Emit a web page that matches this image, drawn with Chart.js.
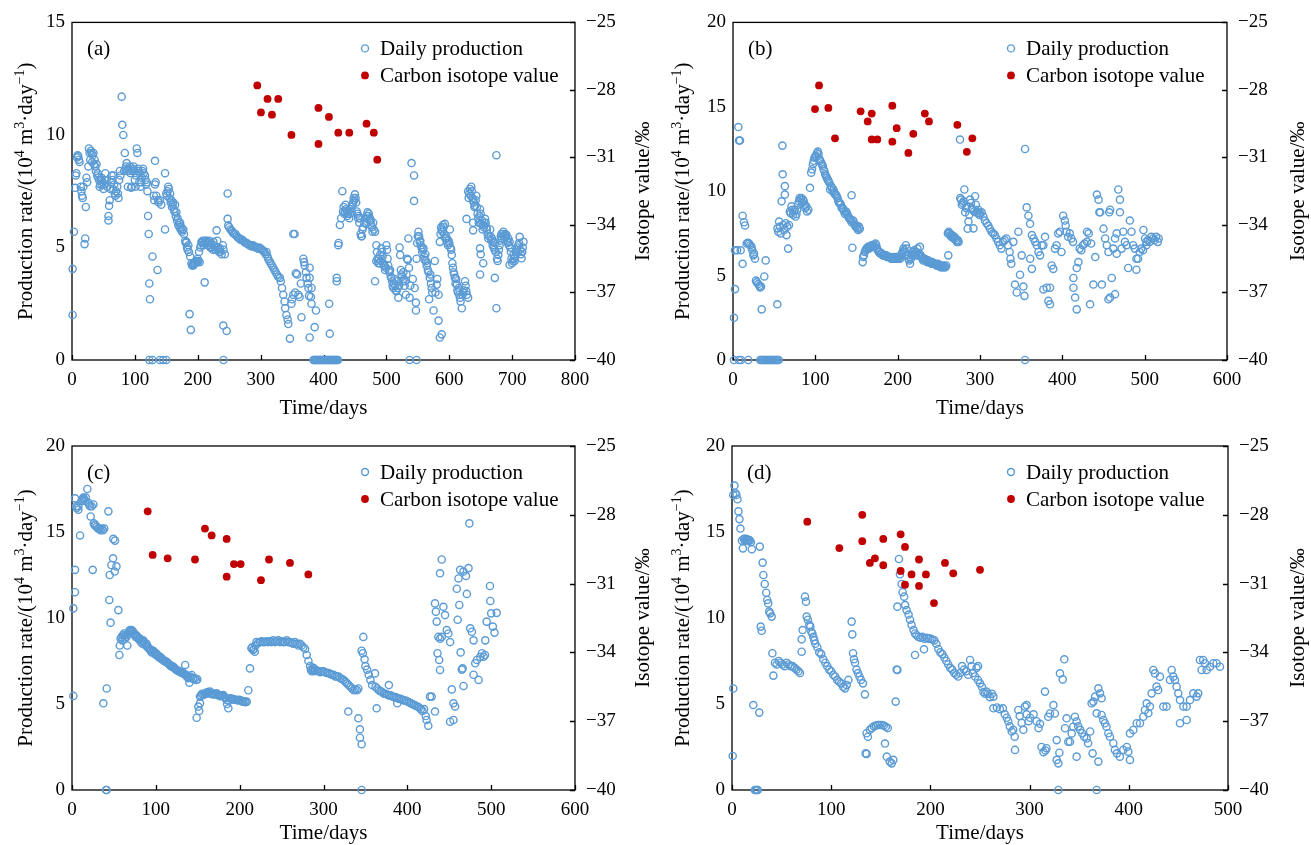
<!DOCTYPE html>
<html><head><meta charset="utf-8">
<script src="https://cdn.jsdelivr.net/npm/chart.js@4.4.0/dist/chart.umd.min.js"></script>
<style>
html,body{margin:0;padding:0;background:#fff;}
body{width:1311px;height:845px;overflow:hidden;position:relative;}
.p{position:absolute;}
</style></head><body>
<div class="p" style="left:0;top:0;width:655px;height:422px"><canvas id="ca"></canvas></div>
<div class="p" style="left:655px;top:0;width:656px;height:422px"><canvas id="cb"></canvas></div>
<div class="p" style="left:0;top:422px;width:655px;height:423px"><canvas id="cc"></canvas></div>
<div class="p" style="left:655px;top:422px;width:656px;height:423px"><canvas id="cd"></canvas></div>
<script>
// ---------------- DATA ----------------
const seriesNames = ['Daily production', 'Carbon isotope value'];
const panelLabels = ['(a)', '(b)', '(c)', '(d)'];
const xTitle = 'Time/days';
const rightTitle = 'Isotope value/‰';
const isoTicks = [-40, -37, -34, -31, -28, -25];
const xMaxes = [800, 600, 600, 500];
const yMaxes = [15, 20, 20, 20];

const prodA = [[1,2.0],[1,4.05],[3,5.7],[5,7.65],[6,8.2],[7,8.3],[8,9.0],[9,9.1],[10,9.05],[11,8.9],[12,8.8],[14,7.7],[15,7.5],[16,7.3],[17,7.2],[18,7.7],[20,5.15],[21,5.4],[22,6.8],[23,8.1],[24,7.9],[26,8.6],[27,9.4],[28,9.2],[29,8.9],[30,9.3],[31,9.2],[32,8.8],[33,9.1],[34,9.2],[35,8.7],[36,8.9],[37,8.6],[38,8.4],[39,8.7],[40,8.2],[41,8.3],[42,8.1],[43,8.0],[44,7.7],[45,7.8],[46,8.0],[47,8.1],[48,7.8],[49,7.9],[50,7.6],[51,7.8],[52,8.0],[53,8.3],[55,8.0],[56,7.7],[58,6.4],[58,6.2],[59,6.85],[60,7.1],[61,7.6],[62,7.9],[63,8.2],[64,8.0],[65,7.6],[66,8.2],[67,7.8],[68,7.4],[69,7.3],[70,7.5],[72,7.7],[73,7.4],[74,7.2],[75,8.0],[76,8.4],[77,8.2],[79,11.7],[80,10.45],[81.6,10.0],[83,8.4],[84,9.2],[85,8.5],[86,8.6],[87,8.75],[88,8.4],[89,7.7],[90,8.5],[91,8.4],[92,8.6],[93,8.3],[94,7.65],[95,7.7],[96,8.4],[97,8.5],[98,8.6],[99,8.4],[100,8.0],[101,7.7],[102,8.2],[103,9.4],[104,9.2],[105,8.5],[106,8.4],[107,7.9],[108,8.3],[109,7.7],[110,7.9],[111,8.1],[112,8.4],[113,8.5],[114,8.3],[116,8.2],[117,8.0],[118,7.8],[119,7.9],[120,7.5],[121,6.4],[122,5.6],[123,3.4],[124,2.7],[128,4.6],[130,7.3],[131,7.1],[132,8.85],[132,7.8],[133,7.9],[134,7.3],[136,4.0],[137,7.1],[138,7.0],[140,7.1],[142,6.9],[148,8.3],[148,5.8],[150,7.4],[151,7.3],[152,7.5],[153,7.7],[154,7.6],[155,7.2],[156,7.4],[157,7.0],[158,7.1],[159,6.8],[160,6.9],[161,7.0],[162,6.7],[163,6.6],[164,6.9],[165,6.4],[166,6.56],[167,6.2],[168,6.3],[169,6.0],[170,6.1],[171,5.9],[172,6.1],[173,5.8],[174,5.9],[175,5.7],[176,5.8],[177,5.8],[178,5.6],[180,5.3],[181,5.2],[182,5.25],[183,5.0],[184,4.9],[185,5.1],[186,4.8],[187,2.04],[188,4.6],[189,1.34],[190,4.3],[191,4.2],[192,4.25],[193,4.2],[194,4.3],[195,4.3],[196,4.35],[197,4.4],[198,4.4],[199,4.35],[200,4.5],[201,4.4],[202,4.8],[203,4.35],[204,5.0],[205,5.1],[206,5.25],[207,5.2],[208,5.3],[209,5.1],[210,5.2],[211,3.45],[212,5.3],[213,5.2],[214,5.3],[215,5.25],[216,5.1],[217,5.2],[218,5.3],[219,5.1],[220,5.0],[221,5.2],[222,5.0],[224,4.9],[225,5.25],[226,5.1],[227,5.0],[228,4.9],[230,5.76],[231,5.3],[232,5.0],[233,4.9],[234,4.8],[235,4.96],[236,4.8],[238,4.7],[240,5.1],[241,4.9],[243,4.7],[240.6,1.53],[246,1.29],[247.5,7.4],[247.5,6.27],[248.5,5.98],[250,5.9],[252,5.8],[254,5.75],[256,5.65],[258,5.6],[260,5.6],[262,5.5],[264,5.45],[266,5.4],[268,5.35],[270,5.35],[272,5.3],[274,5.25],[276,5.2],[278,5.2],[280,5.15],[282,5.1],[284,5.1],[286,5.05],[288,5.1],[290,5.05],[292,5.0],[294,5.0],[296,4.95],[298,5.0],[300,4.95],[302,4.9],[304,4.85],[306,4.8],[308,4.7],[309.5,4.8],[311,4.6],[312,4.5],[314,4.4],[316,4.3],[318,4.2],[320,4.1],[322,4.0],[324,3.9],[326,3.8],[328,3.7],[330.7,3.65],[332,3.5],[334,3.2],[336,2.9],[338,2.6],[339,2.3],[341,2.0],[343,1.8],[344,1.6],[346.6,0.95],[349,2.5],[350,2.7],[352,2.9],[352,5.6],[354,5.6],[355,3.0],[356,3.85],[358,3.8],[360,2.9],[362,2.8],[364,3.4],[365,1.9],[368,4.5],[369,4.35],[370,4.2],[372,3.9],[373,3.65],[375,3.4],[376,3.2],[377,2.85],[378,1.0],[381,2.5],[378,4.1],[378,3.65],[380,2.8],[381,3.2],[386,1.46],[388,2.2],[409,2.5],[410,1.17],[421,3.65],[421,3.5],[423.5,5.1],[424,5.2],[426,6.0],[428,6.3],[430,7.5],[431,6.6],[432,6.8],[433,6.5],[434,6.6],[435,6.9],[436,6.7],[437,6.6],[438,6.4],[439,6.5],[440,6.6],[441,6.3],[442,6.7],[443,6.5],[444,6.8],[445,6.6],[446,6.9],[447,7.0],[448,7.2],[449,7.1],[450,7.36],[451,7.2],[452,7.0],[453,6.6],[454,6.5],[455,6.3],[456,6.4],[457,6.1],[458,6.3],[459,5.6],[460,5.5],[461,5.5],[462,5.8],[463,5.9],[465,6.1],[467,6.3],[468,6.05],[469,6.4],[470,6.56],[471,6.4],[472,6.5],[473,6.2],[474,6.3],[475,6.2],[476,6.0],[477,5.9],[478,5.7],[479,6.1],[480,5.8],[482,5.7],[484,5.1],[485,4.8],[486,4.5],[484,4.4],[482,3.5],[487,4.3],[488,4.5],[489,4.3],[490,4.67],[491,4.4],[492,4.96],[493,4.8],[494,4.6],[495,4.3],[496,4.2],[497,4.2],[498,4.0],[499,4.1],[500,5.1],[501,4.9],[502,4.5],[503,4.2],[504,4.0],[505,3.9],[506,4.0],[507,3.7],[508,3.65],[509,3.5],[510,3.3],[511,3.2],[512,3.4],[513,3.6],[514,3.3],[515,3.1],[516,3.06],[517,3.5],[518,3.2],[519,2.77],[520,3.3],[521,5.0],[522,4.67],[523,4.0],[524,3.8],[525,3.7],[526,3.5],[527,3.9],[528,3.6],[529,3.3],[530,3.5],[531,2.9],[532,3.8],[533,4.5],[534,4.45],[535,5.4],[536,4.1],[537,2.77],[538,3.3],[540,8.75],[542,3.6],[544,8.2],[544,7.07],[545,3.2],[547,2.55],[547,2.2],[548,4.5],[549,5.2],[550,5.5],[551,5.7],[552,5.5],[553,5.25],[554,5.3],[555,5.1],[556,5.0],[557,4.8],[558,4.9],[559,4.96],[560,4.6],[561,4.45],[562,4.7],[563,4.4],[564,4.2],[565,4.3],[566,4.0],[567,3.9],[568,2.7],[569,3.65],[570,3.8],[571,3.4],[572,3.2],[573,3.0],[575,2.2],[577,4.4],[578,3.0],[580,3.35],[581,3.6],[583,2.9],[583,1.75],[585,1.0],[588,1.14],[585,5.25],[586,5.6],[587,5.9],[588,5.8],[589,5.7],[590,6.0],[591,5.9],[592,5.6],[593,6.05],[594,5.4],[595,5.5],[596,5.4],[597,5.2],[598,5.1],[599,5.3],[600,5.2],[601,5.8],[602,5.0],[603,4.9],[604,4.67],[605,4.3],[606,4.1],[607,3.9],[608,3.8],[609,3.65],[610,3.4],[611,3.6],[612,3.35],[613,3.1],[614,3.0],[615,3.2],[616,2.9],[617,2.77],[618,2.6],[620,2.3],[621,2.9],[622,3.0],[623,3.1],[625,3.5],[626,3.3],[627,3.06],[628,2.9],[630,2.77],[627.5,6.27],[630,7.5],[631,7.2],[632,7.4],[633,7.6],[634,7.3],[635,7.7],[636,7.5],[637,7.2],[638,7.1],[639,7.0],[640,6.8],[641,6.85],[642,7.1],[643,7.3],[644,6.8],[645,6.5],[638,6.1],[638,5.76],[646,6.3],[647,6.1],[648,6.4],[649,6.7],[650,6.5],[651,6.05],[652,6.2],[653,5.8],[654,6.0],[655,5.9],[656,6.1],[657,6.27],[658,6.1],[659,5.9],[660,5.8],[649,4.96],[650,4.7],[654,4.3],[649,3.8],[661,5.6],[662,5.4],[663,5.5],[665,5.8],[666,5.5],[667,5.3],[668,5.4],[669,5.1],[670,5.25],[671,5.0],[672,4.9],[673,5.2],[674,4.8],[675,9.1],[672.5,3.65],[675,2.3],[676,4.5],[677,4.4],[678,4.67],[679,4.9],[680,5.1],[681,5.3],[682,5.5],[683,5.6],[684,5.4],[685,5.6],[686,5.7],[687,5.5],[688,5.4],[689,5.6],[690,5.5],[691,5.55],[692,5.3],[693,5.2],[694,5.4],[695,5.1],[696,5.25],[697,5.0],[698,4.8],[699,4.5],[700,4.3],[696,4.23],[701,4.4],[702,4.67],[703,4.5],[704,4.4],[705,4.6],[706,4.8],[707,4.9],[708,5.0],[709,4.8],[710,5.1],[711,5.2],[712,5.47],[713,4.9],[714,4.7],[715,4.52],[716,4.8],[717,5.0],[718,5.25],
[123,0],[128,0],[140,0],[145,0],[150,0],[241,0],[384,0],[385.5,0],[387,0],[388.5,0],[390,0],[391.5,0],[393,0],[394.5,0],[396,0],[397.5,0],[399,0],[400.5,0],[402,0],[403.5,0],[405,0],[406.5,0],[408,0],[409.5,0],[411,0],[412.5,0],[414,0],[415.5,0],[417,0],[418.5,0],[420,0],[421.5,0],[423,0],[537,0],[548,0]];
const isoA = [[294.7,-27.8],[300.5,-29.0],[311,-28.4],[318,-29.1],[328,-28.4],[349,-30.0],[392,-28.8],[392,-30.4],[408.6,-29.2],[423.5,-29.9],[441,-29.9],[468.5,-29.5],[480,-29.9],[485.5,-31.1]];

const prodB = [[1.2,2.5],[2.4,4.2],[2.4,6.5],[5,6.5],[6.5,13.8],[7.3,13.0],[8.5,13.0],[9.3,6.5],[11.7,5.7],[11.7,8.55],[13.4,8.16],[14.6,7.97],[16.6,6.9],[18,6.95],[19.5,6.9],[21,6.8],[22.5,6.7],[23.5,6.5],[24.7,6.2],[25.5,6.3],[26.7,6.0],[27.9,4.7],[29,4.6],[30.5,4.5],[32,4.4],[33,4.3],[34,4.35],[34.8,3.0],[38,4.95],[39.7,5.9],[53.8,3.3],[54,7.8],[55,7.6],[56,8.2],[57,7.9],[58,7.5],[59,9.4],[60,12.7],[60.3,11.0],[61,8.0],[62,7.7],[63,9.8],[63,10.3],[64,8.1],[65,7.4],[66,7.9],[67,6.6],[68,8.0],[69,8.8],[70,8.7],[71,9.1],[72,8.9],[73,8.6],[74,8.8],[75,8.9],[76,8.5],[77,8.65],[78,8.9],[79,9.2],[80,9.4],[81,9.6],[82,9.5],[83,9.6],[84,9.3],[85,9.5],[86,9.4],[87,9.2],[88,9.0],[89,9.1],[90,8.8],[91.5,8.9],[93.5,10.2],[95,11.1],[96,11.3],[97,11.6],[98,11.8],[99,12.0],[100,12.05],[101,12.1],[102,12.25],[103,12.35],[104,12.2],[105,11.9],[106,11.8],[107,11.7],[108,11.6],[109,11.5],[110,11.3],[111,11.2],[112,11.0],[113,10.9],[114,10.8],[115,10.7],[116,10.6],[117,10.5],[118,10.1],[119,10.3],[120,10.2],[121,10.0],[122,10.1],[123,9.9],[124,9.8],[125,9.8],[126,9.7],[127,9.6],[128,9.4],[129,9.3],[130,9.3],[131,9.2],[132,9.0],[133,9.0],[134,8.94],[135,8.8],[136,8.65],[137,8.8],[138,8.75],[139,8.6],[140,8.5],[141,8.4],[142,8.36],[143,8.3],[144,9.76],[144,8.16],[145,6.65],[146,8.26],[147,8.1],[148,8.0],[149,7.9],[150,7.97],[151,7.8],[152,7.7],[153,7.9],[154,7.78],[157.5,5.8],[158,6.1],[159,6.2],[160,6.4],[161,6.5],[162,6.6],[163,6.6],[164,6.7],[165,6.6],[166,6.7],[167,6.7],[168,6.8],[169,6.7],[170,6.7],[171,6.8],[172,6.7],[173,6.9],[174,6.8],[175,6.6],[176,6.5],[177,6.4],[178,6.4],[179,6.3],[180,6.3],[181,6.3],[182,6.2],[183,6.2],[184,6.2],[185,6.2],[186,6.2],[187,6.1],[188,6.1],[189,6.1],[190,6.1],[191,6.1],[192,6.0],[193,6.0],[194,6.0],[195,6.1],[196,6.0],[197,6.0],[198,6.0],[199,6.1],[200,6.0],[201,6.0],[202,6.1],[203,6.0],[204,6.2],[205,6.3],[206,6.4],[207,6.6],[208,6.5],[209,6.4],[210,6.8],[211,6.6],[212,6.2],[213,6.0],[214,5.9],[215,5.7],[216,6.0],[217,6.3],[218,6.2],[219,6.4],[220,6.5],[221,6.3],[222,6.2],[223,6.4],[224,6.6],[225,6.2],[226,6.3],[227,6.7],[228,6.2],[229,6.1],[230,6.0],[231,5.9],[232,6.0],[233,6.0],[234,5.9],[235,5.9],[236,5.8],[237,5.9],[238,5.8],[239,5.8],[240,5.8],[241,5.7],[242,5.8],[243,5.7],[244,5.7],[245,5.7],[246,5.7],[247,5.6],[248,5.6],[249,5.7],[250,5.6],[251,5.6],[252,5.5],[253,5.6],[254,5.5],[255,5.5],[256,5.6],[257,5.5],[258,5.5],[259,5.6],[261.5,6.2],[261,7.5],[262,7.6],[263,7.5],[264,7.4],[265,7.3],[266,7.4],[267,7.3],[268,7.2],[269,7.3],[270,7.2],[271,7.1],[272,7.0],[273,7.1],[274,7.0],[275.7,13.06],[276,9.6],[277,9.5],[278,9.2],[279,9.3],[280,9.4],[281,10.1],[282,8.75],[283,9.0],[284,9.1],[285,7.78],[286,8.2],[287,8.6],[288,9.5],[289,9.3],[290,9.0],[291,8.9],[292,7.8],[293,8.8],[294,9.7],[295,9.2],[296,8.8],[297,8.7],[298,8.9],[299,8.6],[300,8.7],[302,8.75],[304,8.5],[306,8.26],[308,8.1],[310,7.97],[312,7.78],[314,7.6],[316,7.5],[318,7.4],[320,7.2],[322,7.0],[324,6.8],[326,6.6],[328,7.0],[330,7.1],[332,7.2],[334,6.8],[336,6.4],[337,6.0],[338,5.7],[340.5,7.0],[342.5,4.47],[344.6,4.0],[346.6,7.6],[348.6,5.05],[350.7,6.2],[352.7,4.35],[354,3.8],[354.7,12.5],[356.7,9.04],[358.8,8.55],[360.8,8.07],[361,6.0],[363,5.4],[363,7.4],[365,7.2],[367,7.0],[369,6.8],[371,6.4],[373,6.2],[375,6.8],[377,6.8],[379,7.3],[377,4.18],[381,4.28],[385,4.28],[383,3.5],[385,3.3],[387,5.6],[389,5.4],[391,6.6],[393,6.8],[395,7.5],[397,7.6],[399,6.4],[401,8.55],[403,8.26],[404,7.97],[405,7.6],[407,7.3],[409,7.5],[411,7.2],[413,7.0],[413.5,4.28],[413.5,4.86],[415.5,3.7],[417.5,3.0],[417.5,5.45],[419.5,5.8],[421,6.6],[423,6.5],[425,6.8],[427,6.9],[430,7.0],[430,7.6],[432,7.5],[433.7,3.3],[435,6.9],[437.7,4.47],[440,6.1],[442,9.8],[444,9.5],[445,8.75],[446,8.75],[448,4.47],[450,7.78],[452,7.2],[454,6.8],[456,6.4],[456,3.6],[457,8.75],[458,8.9],[458,3.7],[460,4.86],[462,6.6],[464,7.2],[464,3.9],[466,7.5],[466,6.3],[468,10.1],[470,9.5],[470,8.75],[472,6.6],[474,7.6],[476,7.0],[478,6.8],[480,5.45],[482,8.26],[484,7.6],[486,6.8],[488,6.6],[490,6.0],[490,5.35],[492,6.0],[494,6.4],[496,6.6],[498,6.5],[498.5,7.7],[500.5,7.2],[502,7.0],[502,6.8],[504,7.1],[506,7.0],[508,7.3],[510,7.2],[512,7.1],[514,7.3],[516,7.0],[517,7.2],
[1.2,0],[7.3,0],[9.7,0],[18.6,0],[33,0],[34.5,0],[36,0],[37.5,0],[39,0],[40.5,0],[42,0],[43.5,0],[45,0],[46.5,0],[48,0],[49.5,0],[51,0],[52.5,0],[54,0],[55.5,0],[354.7,0]];
const isoB = [[99.6,-28.85],[104.5,-27.8],[115.8,-28.8],[123.9,-30.15],[155,-28.95],[163.6,-29.4],[168.5,-29.05],[168.5,-30.2],[175.3,-30.2],[193.5,-28.7],[193.5,-30.3],[198.8,-29.7],[213,-30.8],[219,-29.95],[233,-29.05],[238,-29.4],[272.5,-29.55],[284,-30.75],[290.7,-30.15]];

const prodC = [[1.6,5.47],[1.6,10.56],[3.6,11.5],[3.6,12.8],[3.6,16.96],[5,16.5],[5.6,16.4],[7.6,16.3],[7.6,16.5],[9.6,14.8],[11.5,16.8],[12.5,16.9],[13.5,17.0],[14.5,16.9],[15.5,16.8],[16.5,17.0],[18.3,17.5],[19.5,16.7],[20.5,16.6],[21.5,16.5],[22.3,15.9],[23.5,16.5],[24.7,12.8],[25.5,16.6],[26,15.5],[27,15.4],[28,15.4],[29.5,15.3],[31,15.2],[32.5,15.2],[34,15.1],[35.5,15.2],[37,15.1],[37.4,5.04],[38.5,15.2],[41.4,5.9],[43.4,16.2],[44.5,11.05],[45,12.5],[46,9.73],[47,13.08],[49,13.47],[49.3,14.6],[51,12.7],[51.3,14.5],[53,13.0],[55.3,10.46],[56.5,7.85],[57,8.4],[58,8.8],[59,8.9],[60,8.7],[61,9.0],[62,9.1],[63,8.8],[64,9.0],[65,8.9],[66,8.4],[67,9.1],[68,9.2],[69,9.3],[70,9.2],[71,9.3],[72,9.25],[73,9.2],[74,9.1],[75,9.0],[76,8.9],[77,9.0],[78,8.9],[79,8.8],[80,8.8],[81,8.8],[82,8.6],[83,8.7],[84,8.5],[85,8.7],[86,8.6],[87,8.5],[88,8.4],[89,8.5],[90,8.3],[91,8.3],[92,8.2],[93,8.2],[94,8.1],[95,8.0],[96,8.1],[97,8.1],[98,8.0],[99,7.9],[100,7.95],[101,7.9],[102,7.8],[103,7.8],[104,7.7],[105,7.75],[106,7.7],[107,7.6],[108,7.6],[109,7.56],[110,7.5],[111,7.5],[112,7.45],[113,7.46],[114,7.4],[115,7.35],[116,7.3],[117,7.27],[118,7.2],[119,7.2],[120,7.15],[121,7.17],[122,7.1],[123,7.05],[124,7.0],[125,6.98],[126,6.95],[127,6.9],[128,6.9],[129,6.88],[130,6.85],[131,6.8],[132,6.8],[133,6.78],[134,6.75],[135,7.27],[136,6.7],[137,6.59],[138,6.6],[139,6.5],[140,6.24],[141,6.6],[142,6.55],[142.7,6.69],[144,6.5],[145,6.45],[146.7,6.5],[148,6.4],[149.5,6.43],[148.7,4.2],[150.7,4.85],[151.7,4.6],[152.7,5.04],[152.7,5.43],[154,5.5],[155,5.6],[156.7,5.52],[158,5.6],[159,5.6],[160,5.65],[161,5.6],[162,5.7],[163,5.65],[164.6,5.72],[166,5.6],[167,5.6],[168,5.55],[169,5.6],[170,5.6],[171,5.55],[172.6,5.62],[174,5.55],[175,5.5],[176,5.5],[177,5.45],[178,5.5],[179,5.5],[180.5,5.52],[182,5.4],[183,5.35],[184.5,5.23],[185,5.0],[186.5,4.75],[187,5.2],[188.5,5.33],[190,5.3],[191,5.3],[192.5,5.27],[194,5.25],[195,5.25],[196.4,5.23],[198,5.2],[199,5.25],[200.4,5.23],[202,5.2],[203,5.15],[204.4,5.14],[206,5.15],[207,5.1],[208.4,5.14],[210.3,5.8],[212.3,7.07],[214,8.24],[215,8.3],[216,8.14],[217,8.2],[218,8.04],[219,8.4],[220,8.6],[222,8.55],[224,8.6],[226,8.65],[228,8.6],[230,8.6],[232,8.65],[234,8.6],[236,8.65],[238,8.6],[240,8.7],[242,8.6],[244,8.65],[246,8.7],[248,8.6],[250,8.65],[252,8.6],[254,8.6],[256,8.7],[258,8.6],[260,8.6],[262,8.55],[264,8.5],[266,8.6],[268,8.5],[270,8.4],[272,8.5],[274,8.4],[276,8.3],[278,8.2],[280,7.85],[282,7.5],[284,7.2],[285,7.0],[286,6.9],[287,7.0],[288,7.1],[289,6.9],[290,7.0],[292,6.95],[294,6.9],[296,6.85],[298,6.9],[300,6.9],[302,6.85],[304,6.8],[306,6.8],[308,6.75],[310,6.7],[312,6.7],[314,6.6],[316,6.6],[318,6.6],[320,6.5],[322,6.45],[324,6.4],[326,6.3],[328,6.2],[329.6,4.56],[330,6.1],[332,6.0],[334,5.9],[336,5.8],[338,5.85],[340,5.8],[341.6,5.9],[341.6,4.17],[343.5,3.53],[343.5,3.04],[345.5,2.66],[347.5,8.9],[345.5,8.1],[347,7.95],[349,7.6],[350,7.2],[352,7.0],[354,6.7],[356,6.4],[358,6.1],[361.4,6.78],[362,6.0],[363.4,4.75],[364,5.9],[366,5.8],[368,5.75],[370,5.7],[372,5.6],[374,5.6],[376,5.55],[378,6.1],[378,5.5],[380,5.5],[382,5.45],[384,5.4],[386,5.4],[388,5.04],[388,5.35],[390,5.3],[392,5.3],[394,5.25],[396,5.2],[398,5.2],[400,5.15],[402,5.1],[404,5.05],[406,5.0],[408,4.95],[410,4.9],[412,4.85],[414,4.8],[416,4.7],[418,4.6],[420,4.7],[422,4.3],[423,4.07],[425,3.74],[427,5.43],[429,5.43],[433,4.56],[433,10.85],[434,10.37],[435,9.79],[436,7.95],[437,8.9],[438,7.56],[439,6.98],[439,8.8],[439,12.6],[441,13.4],[441,8.9],[443,10.65],[445,10.17],[447,9.3],[449,9.1],[451,8.6],[451,3.97],[453,5.85],[455,5.04],[455,4.07],[457,4.85],[459,11.7],[460,9.9],[461,12.3],[462,10.76],[463,12.8],[463.6,8.0],[465,7.0],[466,7.07],[467,6.05],[467,12.7],[470,12.44],[471,11.4],[473,12.9],[474,15.5],[475,9.4],[477,9.2],[479,8.7],[479,6.7],[481,7.37],[483,7.56],[485,6.4],[487,7.75],[489,7.95],[491,7.75],[492.6,7.85],[493,8.7],[494.6,9.79],[498.6,11.86],[499,10.99],[500,10.27],[502,9.5],[504,9.15],[506.6,10.3],
[40.6,0],[41.4,0],[345.5,0]];
const isoC = [[90.3,-27.85],[96.2,-29.75],[114.1,-29.9],[146.7,-29.95],[158.6,-28.6],[166.6,-28.9],[184.5,-29.05],[184.5,-30.7],[193.2,-30.15],[201.2,-30.15],[225.4,-30.85],[235,-29.95],[260,-30.1],[281.9,-30.6]];

const prodD = [[0.7,1.98],[1.3,5.9],[1.3,17.15],[2.5,17.7],[3.5,17.25],[4.5,17.15],[5.5,16.9],[6.5,16.2],[7.5,15.75],[8.5,15.2],[10,14.5],[11,14.05],[12,14.6],[13,14.5],[14,14.6],[15,14.55],[16,14.5],[17,14.55],[18,14.5],[19,14.4],[20,14.0],[21.5,4.94],[27.5,4.5],[28,14.15],[28.9,9.5],[29.9,9.26],[30.9,13.22],[31.6,12.5],[33,11.98],[34.5,11.47],[35.5,11.05],[36.5,10.85],[37.5,10.37],[38.5,10.27],[40,10.08],[40.7,7.95],[41.7,6.65],[43.3,7.4],[45,7.3],[47,7.5],[49,7.4],[51,7.3],[53,7.2],[55,7.4],[57,7.3],[59,7.2],[61,7.2],[63,7.1],[65,7.0],[67,6.9],[68.5,6.8],[70.2,8.04],[70.2,8.76],[71.2,9.3],[73.6,11.24],[74.6,10.95],[75.3,10.08],[76.5,9.9],[78,9.6],[79,9.5],[80,9.2],[81,9.1],[82,8.9],[83,8.7],[84,8.5],[86,8.3],[88,8.0],[90,7.9],[92,7.6],[94,7.4],[96,7.2],[98,7.0],[100,6.9],[102,6.7],[104,6.6],[106,6.4],[108,6.3],[110,6.2],[112,6.0],[113.9,5.91],[115.6,6.1],[117.3,6.4],[120.6,9.79],[121.3,9.05],[122,7.95],[123,7.6],[124,7.4],[125.5,7.0],[127,6.8],[128.5,6.6],[130,6.4],[132,6.2],[134,5.56],[134.7,2.13],[135.7,2.1],[135.7,3.3],[137,3.1],[139,3.5],[141,3.6],[143,3.7],[145,3.75],[147,3.78],[149,3.78],[151,3.78],[153,3.75],[155,3.68],[157,3.6],[154.2,2.7],[156,1.94],[159,1.65],[161,1.55],[162.6,1.75],[165,5.14],[166,7.0],[166.7,6.98],[166.7,10.66],[168.3,13.43],[169.3,12.54],[171,11.98],[172,11.5],[173.5,11.24],[174.5,10.75],[176,10.46],[178,10.2],[179.5,9.9],[181,9.6],[183,9.3],[184.5,9.1],[184.5,7.85],[186,9.0],[188,8.9],[190,8.85],[192,8.9],[193.5,8.18],[194,8.8],[196,8.85],[198,8.8],[200,8.8],[202,8.75],[204,8.7],[206,8.5],[208,8.2],[210,8.0],[212,7.9],[214,7.7],[216,7.5],[218,7.3],[220,7.1],[222,7.0],[224,6.8],[226,6.7],[228,6.6],[230,6.8],[232,7.2],[234,7.0],[236,6.9],[238,6.7],[240,7.56],[241.5,7.2],[243,6.8],[245,6.6],[246.5,7.1],[248,7.2],[248,6.4],[250,6.2],[252,6.0],[253.5,5.7],[255,5.6],[256.5,5.72],[258,5.6],[260,5.4],[262,5.6],[263.5,5.43],[263.5,4.75],[267,4.8],[270,4.7],[273,4.75],[275,4.4],[277,4.2],[278.5,4.0],[280,3.7],[282,3.4],[283.5,3.5],[285,3.1],[285.3,2.33],[288.6,4.65],[290,4.3],[292,3.9],[293.7,3.5],[295.3,4.85],[297,4.94],[297,4.4],[299,4.0],[300.5,4.2],[304,4.4],[307,4.0],[309,3.6],[310.5,3.85],[312,2.5],[314,2.2],[315.5,5.72],[316,2.3],[317,2.43],[318.8,4.26],[320.5,4.45],[324,4.94],[325.5,4.45],[327.3,2.9],[327.3,1.75],[329,1.55],[330,2.17],[330.6,6.78],[333.4,6.43],[335,7.6],[335.7,3.59],[337.3,4.17],[339,2.81],[340.7,2.81],[342.4,3.29],[344,3.68],[345.7,4.26],[347.4,1.94],[347.4,3.98],[349,3.7],[351,3.5],[353,3.3],[355,3.1],[357.5,3.0],[359,2.72],[361,3.4],[362.5,5.04],[364.3,5.14],[366,5.43],[363.5,2.13],[367.6,4.46],[369.3,1.65],[369.3,5.91],[371,5.62],[372.6,5.33],[372.6,4.36],[374.3,4.07],[376,3.88],[377.6,3.68],[379.4,3.3],[381,3.1],[384.4,2.72],[386,2.33],[388,2.13],[391,1.94],[394.4,2.33],[398,2.5],[399.5,2.23],[401.2,1.75],[401.2,3.29],[404.5,3.49],[408,3.88],[411.3,3.88],[414.6,4.26],[416.3,4.65],[418,5.04],[419.7,4.46],[421.3,4.85],[423,5.62],[424.7,6.98],[426.4,6.78],[428,6.01],[429.7,5.81],[431.4,6.59],[434.8,4.85],[438.1,4.85],[441.5,6.4],[443.2,6.98],[444.9,6.59],[446.5,6.4],[448.2,6.01],[449.9,5.62],[451.6,5.23],[451.6,3.88],[455,4.85],[458.3,4.85],[458.3,4.07],[461.7,5.23],[465,5.62],[468.4,5.43],[470,5.62],[471.7,7.56],[473.4,6.98],[475,7.56],[476.8,7.37],[478.5,6.98],[481.8,7.17],[485.2,7.37],[488.5,7.37],[491.9,7.17],
[23,0],[24,0],[25,0],[26,0],[329,0],[367.6,0]];
const isoD = [[75.9,-28.3],[108.2,-29.45],[131.3,-28.0],[131.3,-29.15],[139,-30.1],[144.1,-29.9],[152.5,-29.05],[152.5,-30.2],[170,-28.85],[174.4,-29.4],[170,-30.45],[174.4,-31.05],[181,-30.6],[188.5,-29.95],[188.5,-31.1],[195.5,-30.6],[203.6,-31.85],[214.7,-30.1],[223,-30.55],[250,-30.4]];

// ---------------- STYLE / LAYOUT ----------------
const FONT = '"Liberation Serif","Times New Roman",serif';
const BLUE = '#5B9BD5';
const RED = '#C00000';
const layouts = [
  {id:'ca', padTop:17, xH:62, leftW:72, rightW:80, ltx:25, rtx:642, btDy:48, legX:365},
  {id:'cb', padTop:17, xH:62, leftW:78, rightW:84, ltx:27, rtx:642, btDy:48, legX:356},
  {id:'cc', padTop:24, xH:55, leftW:72, rightW:80, ltx:25, rtx:642, btDy:43, legX:365},
  {id:'cd', padTop:24, xH:55, leftW:77, rightW:83, ltx:27, rtx:642, btDy:43, legX:356}
];
const prods = [prodA, prodB, prodC, prodD];
const isos = [isoA, isoB, isoC, isoD];

function drawRich(ctx, parts, cx, cy, rot) {
  ctx.save();
  ctx.translate(cx, cy);
  ctx.rotate(rot);
  const MAIN = '21px ' + FONT, SUP = '14px ' + FONT;
  let w = 0;
  parts.forEach(p => { ctx.font = p.s ? SUP : MAIN; p.w = ctx.measureText(p.t).width; w += p.w; });
  let x = -w / 2;
  ctx.textBaseline = 'alphabetic';
  ctx.textAlign = 'left';
  ctx.fillStyle = '#000';
  parts.forEach(p => { ctx.font = p.s ? SUP : MAIN; ctx.fillText(p.t, x, p.s ? -1 : 7); x += p.w; });
  ctx.restore();
}

const decor = {
  id: 'decor',
  beforeDatasetsDraw(chart, args, o) {
    const ctx = chart.ctx;
    const {left, right, top, bottom} = chart.chartArea;
    ctx.save();
    ctx.strokeStyle = '#000';
    ctx.lineWidth = 1.3;
    ctx.strokeRect(left, top, right - left, bottom - top);
    ctx.beginPath();
    chart.scales.x.ticks.forEach(t => {
      const px = Math.round(chart.scales.x.getPixelForValue(t.value)) + 0.5;
      ctx.moveTo(px, bottom); ctx.lineTo(px, bottom - 5);
    });
    chart.scales.y2.ticks.forEach(t => {
      const py = Math.round(chart.scales.y2.getPixelForValue(t.value)) + 0.5;
      ctx.moveTo(right, py); ctx.lineTo(right - 5, py);
    });
    ctx.stroke();
    ctx.restore();
  },
  afterDraw(chart, args, o) {
    const ctx = chart.ctx;
    const {left, right, top, bottom} = chart.chartArea;
    const L = o.lay;
    ctx.save();
    ctx.fillStyle = '#000';
    ctx.font = '21px ' + FONT;
    ctx.textBaseline = 'middle';
    ctx.textAlign = 'left';
    ctx.fillText(o.label, left + 15, top + 27);
    // legend
    const y1 = top + 26, y2 = top + 53;
    ctx.beginPath();
    ctx.arc(L.legX, y1, 3.5, 0, Math.PI * 2);
    ctx.strokeStyle = BLUE; ctx.lineWidth = 1.4; ctx.stroke();
    ctx.beginPath();
    ctx.arc(L.legX, y2, 3.9, 0, Math.PI * 2);
    ctx.fillStyle = RED; ctx.fill();
    ctx.fillStyle = '#000';
    ctx.fillText(seriesNames[0], L.legX + 15, y1 + 1);
    ctx.fillText(seriesNames[1], L.legX + 15, y2 + 1);
    // bottom title
    ctx.textAlign = 'center';
    ctx.fillText(xTitle, (left + right) / 2, bottom + L.btDy);
    ctx.restore();
    const cy = (top + bottom) / 2;
    drawRich(ctx, [{t:'Production rate/(10'},{t:'4',s:1},{t:' m'},{t:'3',s:1},{t:'·day'},{t:'−1',s:1},{t:')'}], L.ltx, cy, -Math.PI / 2);
    drawRich(ctx, [{t:rightTitle}], L.rtx, cy, -Math.PI / 2);
  }
};

const tickFont = {family: FONT, size: 19};
for (let i = 0; i < 4; i++) {
  const L = layouts[i];
  new Chart(document.getElementById(L.id), {
    type: 'scatter',
    data: {
      datasets: [
        {label: seriesNames[1], data: isos[i].map(([x, y]) => ({x, y})), yAxisID: 'y2', order: 0,
         pointRadius: 3.9, pointBackgroundColor: RED, pointBorderWidth: 0, pointBorderColor: RED, clip: false},
        {label: seriesNames[0], data: prods[i].map(([x, y]) => ({x, y})), yAxisID: 'y', order: 1,
         pointRadius: 3.6, pointBackgroundColor: 'rgba(0,0,0,0)', pointBorderColor: BLUE, pointBorderWidth: 1.4, clip: false}
      ]
    },
    options: {
      responsive: true, maintainAspectRatio: false, animation: false, devicePixelRatio: 1,
      layout: {padding: {top: L.padTop, left: 0, right: 0, bottom: 0}},
      plugins: {legend: {display: false}, tooltip: {enabled: false}, decor: {label: panelLabels[i], lay: L}},
      scales: {
        x: {type: 'linear', position: 'bottom', min: 0, max: xMaxes[i],
            afterFit(s) { s.height = L.xH; },
            ticks: {stepSize: 100, font: tickFont, color: '#000', padding: 9, maxRotation: 0, autoSkip: false},
            grid: {display: false, drawTicks: false}, border: {display: false}},
        y: {type: 'linear', position: 'left', min: 0, max: yMaxes[i],
            afterFit(s) { s.width = L.leftW; },
            ticks: {stepSize: 5, font: tickFont, color: '#000', padding: 7},
            grid: {display: false, drawTicks: false}, border: {display: false}},
        y2: {type: 'linear', position: 'right', min: isoTicks[0], max: isoTicks[isoTicks.length - 1],
            afterFit(s) { s.width = L.rightW; },
            afterBuildTicks(s) { s.ticks = isoTicks.map(v => ({value: v})); },
            ticks: {font: tickFont, color: '#000', padding: 11, callback: v => String(v).replace('-', '−')},
            grid: {display: false, drawTicks: false}, border: {display: false}}
      }
    },
    plugins: [decor]
  });
}
</script>
</body></html>
